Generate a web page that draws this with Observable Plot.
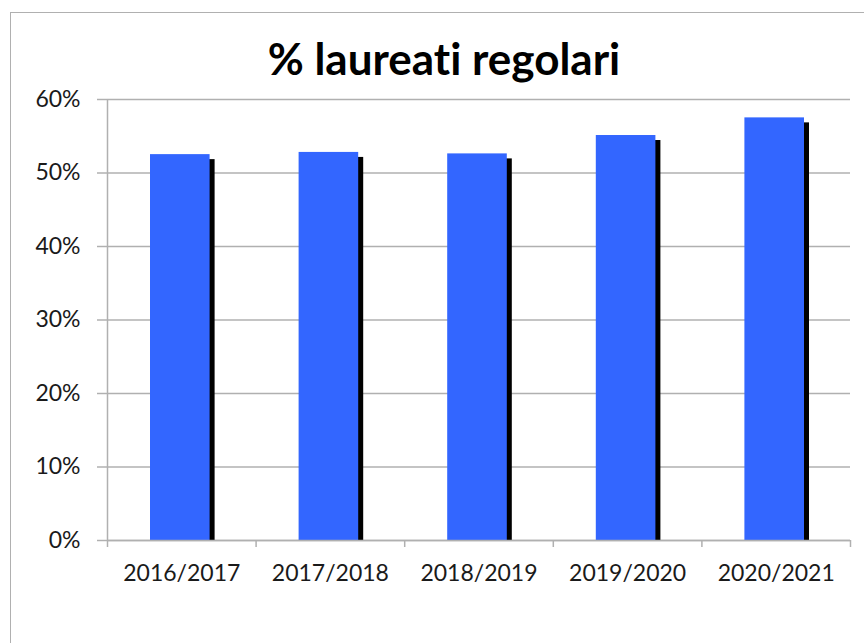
<!DOCTYPE html>
<html>
<head>
<meta charset="utf-8">
<script src="https://cdn.jsdelivr.net/npm/d3@7"></script>
<script src="https://cdn.jsdelivr.net/npm/@observablehq/plot@0.6"></script>
<style>
  html, body { margin: 0; padding: 0; background: #fff; overflow: hidden; }
  #wrap { position: relative; width: 864px; height: 643px; overflow: hidden; }
  #frame { position: absolute; left: 10px; top: 12px; width: 900px; height: 700px; border: 1px solid #b0b0b0; box-sizing: border-box; }
  #title { position: absolute; left: 0; width: 888px; top: 30px; text-align: center; font-family: Lato, sans-serif; font-weight: bold; font-size: 44px; color: #000; line-height: 56px; font-variant-ligatures: none; }
  #chart { position: absolute; left: 0; top: 0; }
</style>
</head>
<body>
<div id="wrap">
  <div id="frame"></div>
  <div id="chart"></div>
  <div id="title">% laureati regolari</div>
</div>
<script>
const years = ["2016/2017", "2017/2018", "2018/2019", "2019/2020", "2020/2021"];
const values = [0.525, 0.528, 0.526, 0.551, 0.575];
const yTicks = [0, 0.1, 0.2, 0.3, 0.4, 0.5, 0.6];

const data = years.map((year, i) => ({year, i, value: values[i]}));
const boundaries = d3.range(years.length + 1);
const centers = years.map((_, i) => i + 0.5);

const gray = "#b0b0b0";
const textColor = "#1a1a1a";

const chart = Plot.plot({
  width: 864,
  height: 643,
  marginLeft: 107,
  marginRight: 14,
  marginTop: 99,
  marginBottom: 103,
  style: {fontFamily: "Lato, sans-serif", fontSize: "23px", color: textColor, background: "transparent"},
  x: {type: "linear", domain: [0, years.length], axis: null, label: null},
  y: {domain: [0, 0.6], axis: null, label: null},
  marks: [
    Plot.ruleY(yTicks, {stroke: gray, strokeWidth: 1.5, strokeOpacity: 1}),
    Plot.rectY(data, {x1: "i", x2: d => d.i + 1, y: "value", fill: "#000", insetLeft: 43, insetRight: 46, insetTop: 5, dx: 5}),
    Plot.rectY(data, {x1: "i", x2: d => d.i + 1, y: "value", fill: "#3366FF", insetLeft: 43, insetRight: 46}),
    Plot.ruleX([0], {stroke: gray, strokeWidth: 1.5}),
    Plot.ruleY([0], {stroke: gray, strokeWidth: 1.5}),
    Plot.axisY({ticks: yTicks, tickFormat: d3.format(".0%"), tickSize: 10, tickPadding: 17, stroke: gray, strokeWidth: 1.5, fill: textColor, fontSize: 23, label: null}),
    Plot.axisX({ticks: boundaries, tickFormat: () => "", tickSize: 7, stroke: gray, strokeWidth: 1.5, label: null}),
    Plot.axisX({ticks: centers, tickFormat: d => years[Math.floor(d)], tickSize: 0, tickPadding: 24, fill: textColor, fontSize: 23, label: null})
  ]
});
document.getElementById("chart").appendChild(chart);
</script>
</body>
</html>
